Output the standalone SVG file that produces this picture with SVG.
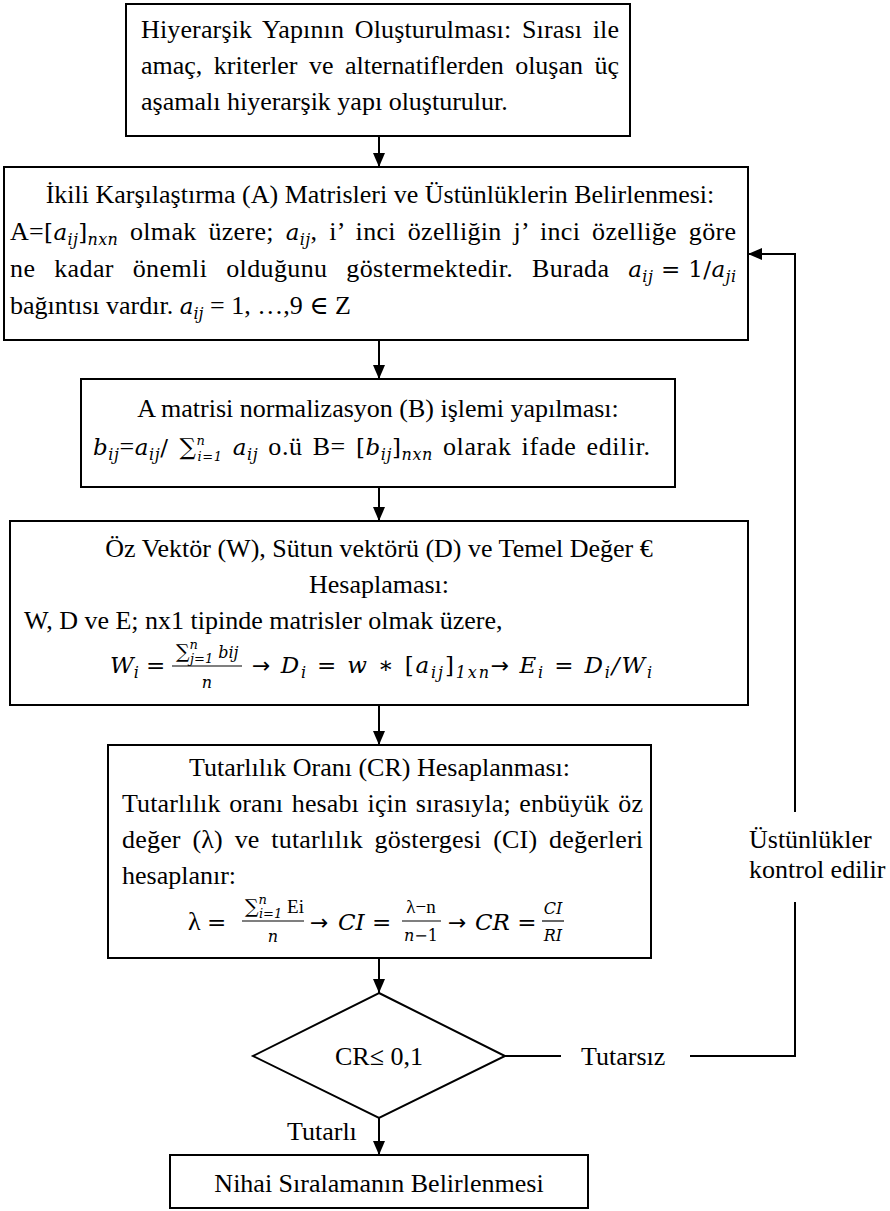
<svg xmlns="http://www.w3.org/2000/svg" width="890" height="1211" viewBox="0 0 890 1211">
<defs>
<marker id="ah" markerWidth="14" markerHeight="12" refX="14" refY="6" orient="auto" markerUnits="userSpaceOnUse"><path d="M0,0 L14,6 L0,12 Z" fill="#000"/></marker>
</defs>
<style>
.box{fill:#fff;stroke:#000;stroke-width:2}
.t{font-family:"Liberation Serif","Times New Roman","DejaVu Serif",serif;font-size:26px;fill:#000}
.c{text-anchor:middle}
.mm{font-family:"DejaVu Serif",serif;font-style:italic;font-size:23px}
.mu{font-family:"DejaVu Serif",serif;font-style:normal;font-size:23px}
.ms{font-family:"DejaVu Serif",serif;font-style:italic;font-size:16px}
.fr{font-size:20px}
.sm{font-size:16px}
.lim{font-family:"DejaVu Serif",serif;font-size:13px;font-style:italic}
.ar{font-family:"DejaVu Sans",sans-serif;font-size:22px}
.ln{fill:none;stroke:#000;stroke-width:2}
.bar{stroke:#000;stroke-width:1.2}
</style>
<rect x="0" y="0" width="890" height="1211" fill="#fff"/>

<g id="connectors">
<line class="ln" x1="379" y1="136" x2="379" y2="167" marker-end="url(#ah)"/>
<line class="ln" x1="379" y1="340" x2="379" y2="379" marker-end="url(#ah)"/>
<line class="ln" x1="379" y1="487" x2="379" y2="521" marker-end="url(#ah)"/>
<line class="ln" x1="379" y1="705" x2="379" y2="745" marker-end="url(#ah)"/>
<line class="ln" x1="379" y1="958" x2="379" y2="993" marker-end="url(#ah)"/>
<line class="ln" x1="379" y1="1118" x2="379" y2="1155" marker-end="url(#ah)"/>
<line class="ln" x1="505" y1="1056" x2="561" y2="1056"/>
<polyline class="ln" points="690,1056 795,1056 795,902"/>
<polyline class="ln" points="795,812 795,254 748,254" marker-end="url(#ah)"/>
<text class="t" x="581" y="1065">Tutarsız</text>
<text class="t" x="287" y="1140">Tutarlı</text>
<text class="t" x="749" y="848">Üstünlükler</text>
<text class="t" x="749" y="878">kontrol edilir</text>
</g>

<g id="n1">
<rect class="box" x="126" y="4" width="504" height="132"/>
<text class="t" x="141" y="38" textLength="478" lengthAdjust="spacing" word-spacing="4">Hiyerarşik Yapının Oluşturulması: Sırası ile</text>
<text class="t" x="141" y="74" textLength="478" lengthAdjust="spacing" word-spacing="5">amaç, kriterler ve alternatiflerden oluşan üç</text>
<text class="t" x="141" y="110">aşamalı hiyerarşik yapı oluşturulur.</text>
</g>

<g id="n2">
<rect class="box" x="4" y="167" width="744" height="173"/>
<text class="t c" x="380" y="203">İkili Karşılaştırma (A) Matrisleri ve Üstünlüklerin Belirlenmesi:</text>
<text class="t" x="10" y="240" textLength="726" lengthAdjust="spacing" word-spacing="5">A=<tspan class="mu">[</tspan><tspan class="mm">a</tspan><tspan class="ms" dy="5">ij</tspan><tspan class="mu" dy="-5">]</tspan><tspan class="ms" dy="5">nxn</tspan><tspan dy="-5"> olmak üzere; </tspan><tspan class="mm">a</tspan><tspan class="ms" dy="5">ij</tspan><tspan dy="-5">, i’ inci özelliğin j’ inci özelliğe göre</tspan></text>
<text class="t" x="10" y="277" textLength="726" lengthAdjust="spacing" word-spacing="12">ne kadar önemli olduğunu göstermektedir. Burada <tspan class="mm">a</tspan><tspan class="ms" dy="5">ij</tspan><tspan class="mu" dy="-5" word-spacing="0"> = 1/</tspan><tspan class="mm">a</tspan><tspan class="ms" dy="5">ji</tspan></text>
<text class="t" x="10" y="314">bağıntısı vardır. <tspan class="mm">a</tspan><tspan class="ms" dy="5">ij</tspan><tspan dy="-5"> = 1, …,9 ∈ Z</tspan></text>
</g>

<g id="n3">
<rect class="box" x="81" y="379" width="594" height="108"/>
<text class="t c" x="378" y="417">A matrisi normalizasyon (B) işlemi yapılması:</text>
<text class="t" x="93" y="455" textLength="557" lengthAdjust="spacing" word-spacing="3"><tspan class="mm">b</tspan><tspan class="ms" dy="5">ij</tspan><tspan dy="-5">=</tspan><tspan class="mm">a</tspan><tspan class="ms" dy="5">ij</tspan><tspan class="mu" dy="-5">/ ∑</tspan><tspan class="lim" dy="-10">n</tspan><tspan class="lim" dx="-8" dy="16">i=1</tspan><tspan dy="-6"> </tspan><tspan class="mm">a</tspan><tspan class="ms" dy="5">ij</tspan><tspan dy="-5"> o.ü B= </tspan><tspan class="mu">[</tspan><tspan class="mm">b</tspan><tspan class="ms" dy="5">ij</tspan><tspan class="mu" dy="-5">]</tspan><tspan class="ms" dy="5">nxn</tspan><tspan dy="-5"> olarak ifade edilir.</tspan></text>
</g>

<g id="n4">
<rect class="box" x="10" y="521" width="738" height="184"/>
<text class="t c" x="379" y="557">Öz Vektör (W), Sütun vektörü (D) ve Temel Değer €</text>
<text class="t c" x="379" y="593">Hesaplaması:</text>
<text class="t" x="24" y="629">W, D ve E; nx1 tipinde matrisler olmak üzere,</text>
<text class="t" x="110" y="673"><tspan class="mm">W</tspan><tspan class="ms" dy="5">i</tspan><tspan class="mu" dy="-5"> =</tspan></text>
<text class="t" x="176" y="658" style="font-size:19px"><tspan class="mu" style="font-size:19px">∑</tspan><tspan class="lim" dy="-9">n</tspan><tspan class="lim" dx="-8" dy="14">j=1</tspan><tspan class="mm" style="font-size:16px" dy="-5"> bij</tspan></text>
<line class="bar" x1="172" y1="666" x2="242" y2="666"/>
<text class="mm c" x="207" y="688" style="font-size:16px">n</text>
<text class="t" x="252" y="673" textLength="400" lengthAdjust="spacing"><tspan class="ar">→</tspan> <tspan class="mm">D</tspan><tspan class="ms" dy="5">i</tspan><tspan class="mu" dy="-5"> = </tspan><tspan class="mm">w</tspan><tspan class="mu"> ∗ [</tspan><tspan class="mm">a</tspan><tspan class="ms" dy="5">ij</tspan><tspan class="mu" dy="-5">]</tspan><tspan class="ms" dy="5">1xn</tspan><tspan class="ar" dy="-5">→</tspan> <tspan class="mm">E</tspan><tspan class="ms" dy="5">i</tspan><tspan class="mu" dy="-5"> = </tspan><tspan class="mm">D</tspan><tspan class="ms" dy="5">i</tspan><tspan class="mm" dy="-5">/W</tspan><tspan class="ms" dy="5">i</tspan></text>
</g>

<g id="n5">
<rect class="box" x="108" y="745" width="543" height="213"/>
<text class="t c" x="379.5" y="776">Tutarlılık Oranı (CR) Hesaplanması:</text>
<text class="t" x="122" y="812" textLength="521" lengthAdjust="spacing" word-spacing="2">Tutarlılık oranı hesabı için sırasıyla; enbüyük öz</text>
<text class="t" x="122" y="848" textLength="521" lengthAdjust="spacing" word-spacing="5">değer (λ) ve tutarlılık göstergesi (CI) değerleri</text>
<text class="t" x="122" y="884">hesaplanır:</text>
<text class="t" x="188" y="930">λ <tspan class="mu">=</tspan></text>
<text class="t" x="245" y="913" style="font-size:19px"><tspan class="mu" style="font-size:19px">∑</tspan><tspan class="lim" dy="-9">n</tspan><tspan class="lim" dx="-8" dy="14">i=1</tspan><tspan dy="-5"> Ei</tspan></text>
<line class="bar" x1="242" y1="921" x2="304" y2="921"/>
<text class="mm c" x="273" y="942" style="font-size:16px">n</text>
<text class="ar" x="310" y="930">→</text>
<text class="mm" x="338" y="930">CI <tspan class="mu">=</tspan></text>
<text class="t c" x="421" y="913" style="font-size:19px">λ−n</text>
<line class="bar" x1="402" y1="921" x2="441" y2="921"/>
<text class="mm c" x="421" y="941" style="font-size:16px">n<tspan class="mu" style="font-size:16px">−1</tspan></text>
<text class="ar" x="448" y="930">→</text>
<text class="mm" x="475" y="930">CR <tspan class="mu">=</tspan></text>
<text class="mm c" x="553" y="914" style="font-size:16px">CI</text>
<line class="bar" x1="542" y1="921" x2="564" y2="921"/>
<text class="mm c" x="553" y="941" style="font-size:16px">RI</text>
</g>

<g id="n6">
<polygon class="box" points="379,993 505,1056 379,1118 253,1056"/>
<text class="t c" x="379" y="1065">CR≤ 0,1</text>
</g>

<g id="n7">
<rect class="box" x="170" y="1155" width="418" height="53"/>
<text class="t c" x="379" y="1192">Nihai Sıralamanın Belirlenmesi</text>
</g>
</svg>
